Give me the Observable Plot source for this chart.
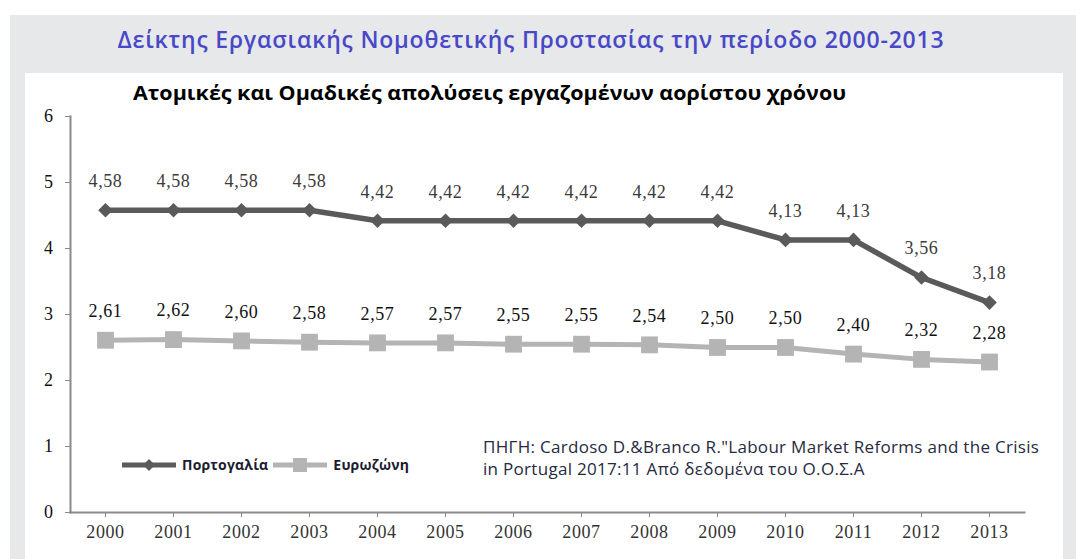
<!DOCTYPE html>
<html>
<head>
<meta charset="utf-8">
<script src="https://cdn.jsdelivr.net/npm/d3@7"></script>
<script src="https://cdn.jsdelivr.net/npm/@observablehq/plot@0.6"></script>
<style>
  html, body { margin: 0; padding: 0; background: #ffffff; }
  #wrap { position: relative; width: 1076px; height: 559px; overflow: hidden; }
  #grey { position: absolute; left: 10px; top: 15px; right: 0; bottom: 0; background: #e7e8ea; }
  #panel { position: absolute; left: 25px; top: 73px; width: 1038px; bottom: 0; background: #ffffff; }
  #title { position: absolute; left: 0; width: 1062px; top: 23px; text-align: center;
    font-family: "Open Sans", sans-serif; font-weight: 600; font-size: 23px; letter-spacing: 0.8px; color: #4848c8; white-space: nowrap; }
  #subtitle { position: absolute; left: 133px; top: 80px; font-family: "Open Sans", sans-serif; font-weight: 700;
    font-size: 19px; color: #000; white-space: nowrap; transform: scaleX(1.13); transform-origin: left center; }
  #chart { position: absolute; left: 0; top: 73px; }
  #legend { position: absolute; left: 122px; top: 455px; display: flex; align-items: center;
    font-family: "Open Sans", sans-serif; font-weight: 700; font-size: 14px; letter-spacing: 0.2px; color: #1c1c30; }
  #legend svg { display: block; }
  #source { position: absolute; left: 483px; top: 436px; font-family: "Open Sans", sans-serif; font-size: 17px;
    letter-spacing: 0.3px; line-height: 22px; color: #262a40; white-space: nowrap; }
  .lbl text { letter-spacing: 0.6px; }
</style>
</head>
<body>
<div id="wrap">
  <div id="grey"></div>
  <div id="panel"></div>
  <div id="title">Δείκτης Εργασιακής Νομοθετικής Προστασίας την περίοδο 2000-2013</div>
  <div id="chart"></div>
  <div id="subtitle">Ατομικές και Ομαδικές απολύσεις εργαζομένων αορίστου χρόνου</div>
  <div id="legend"></div>
  <div id="source">ΠΗΓΗ: Cardoso D.&amp;Branco R."Labour Market Reforms and the Crisis<br>in Portugal 2017:11 Από δεδομένα του Ο.Ο.Σ.Α</div>
</div>
<script>
const years = [2000, 2001, 2002, 2003, 2004, 2005, 2006, 2007, 2008, 2009, 2010, 2011, 2012, 2013];
const portugal = [4.58, 4.58, 4.58, 4.58, 4.42, 4.42, 4.42, 4.42, 4.42, 4.42, 4.13, 4.13, 3.56, 3.18];
const eurozone = [2.61, 2.62, 2.60, 2.58, 2.57, 2.57, 2.55, 2.55, 2.54, 2.50, 2.50, 2.40, 2.32, 2.28];
const yTicks = [0, 1, 2, 3, 4, 5, 6];
const seriesNames = ["Πορτογαλία", "Ευρωζώνη"];

const colPT = "#5a5a5a";
const colEZ = "#b4b4b4";

const pt = years.map((y, i) => ({year: y, value: portugal[i]}));
const ez = years.map((y, i) => ({year: y, value: eurozone[i]}));
const fmt = v => v.toFixed(2).replace(".", ",");

const chart = Plot.plot({
  width: 1076,
  height: 486,
  marginLeft: 70,
  marginRight: 52,
  marginTop: 43,
  marginBottom: 47,
  style: {background: "transparent", fontFamily: "'Liberation Serif', serif"},
  x: {type: "point", domain: years, padding: 0.5, label: null},
  y: {domain: [0, 6], label: null},
  marks: [
    Plot.axisY({ticks: yTicks, tickSize: 5, tickPadding: 12, fontSize: 18, stroke: "#888", color: "#111", tickFormat: d => d, className: "lbl"}),
    Plot.axisX({tickSize: 5, tickPadding: 8, fontSize: 18, stroke: "#888", color: "#333", tickFormat: d => String(d), className: "lbl"}),
    Plot.frame({anchor: "left", stroke: "#8a8a8a", strokeWidth: 2}),
    Plot.frame({anchor: "bottom", stroke: "#8a8a8a", strokeWidth: 2}),
    Plot.line(ez, {x: "year", y: "value", stroke: colEZ, strokeWidth: 5}),
    Plot.dot(ez, {x: "year", y: "value", symbol: "square", r: 9.5, fill: colEZ}),
    Plot.line(pt, {x: "year", y: "value", stroke: colPT, strokeWidth: 5.5}),
    Plot.dot(pt, {x: "year", y: "value", symbol: "diamond2", r: 6.6, fill: colPT}),
    Plot.text(pt, {x: "year", y: "value", text: d => fmt(d.value), dy: -29, fontSize: 18, fill: "#3a3a3a", className: "lbl"}),
    Plot.text(ez, {x: "year", y: "value", text: d => fmt(d.value), dy: -29, fontSize: 18, fill: "#111", className: "lbl"})
  ]
});
document.getElementById("chart").appendChild(chart);

// legend
const legend = document.getElementById("legend");
const swatch = (color, shape) => {
  const w = 54, h = 18;
  const s = d3.create("svg").attr("width", w).attr("height", h);
  s.append("line").attr("x1", 0).attr("x2", w).attr("y1", h/2).attr("y2", h/2).attr("stroke", color).attr("stroke-width", 5);
  if (shape === "diamond") {
    s.append("path").attr("d", d3.symbol(d3.symbolDiamond2, 90)()).attr("transform", `translate(${w/2},${h/2})`).attr("fill", color);
  } else {
    s.append("rect").attr("x", w/2 - 7).attr("y", h/2 - 7).attr("width", 14).attr("height", 14).attr("fill", color);
  }
  return s.node();
};
const items = [[colPT, "diamond"], [colEZ, "square"]];
items.forEach(([c, sh], i) => {
  const sw = swatch(c, sh);
  sw.style.marginRight = "6px";
  legend.appendChild(sw);
  const t = document.createElement("span");
  t.textContent = seriesNames[i];
  t.style.marginRight = "5px";
  legend.appendChild(t);
});
</script>
</body>
</html>
